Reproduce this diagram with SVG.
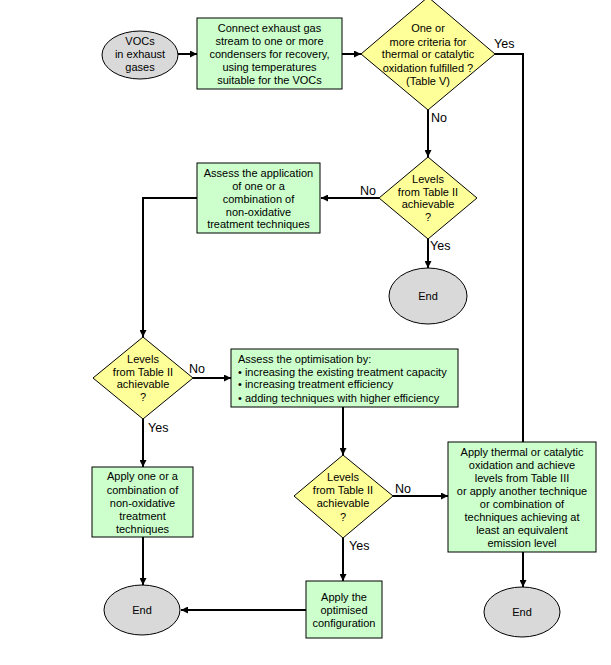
<svg xmlns="http://www.w3.org/2000/svg" width="611" height="665" viewBox="0 0 611 665">
<defs>
<marker id="arr" viewBox="0 0 10 10" refX="10" refY="5" markerWidth="7" markerHeight="7" markerUnits="userSpaceOnUse" orient="auto">
<path d="M0,0 L10,5 L0,10 z" fill="#000"/>
</marker>
<style>
.box{fill:#ccffcc;stroke:#000;stroke-width:1}
.dia{fill:#ffff99;stroke:#000;stroke-width:1}
.ell{fill:#d9d9d9;stroke:#000;stroke-width:1}
text{font-family:"Liberation Sans",Arial,sans-serif;font-size:11px;fill:#000}
.c{text-anchor:middle}
.lbl{font-size:12.5px}
.con{fill:none;stroke:#000;stroke-width:2}
</style>
</defs>
<rect width="611" height="665" fill="#fff"/>
<g id="connectors">
<path class="con" d="M178,54 L197,54" marker-end="url(#arr)"/>
<path class="con" d="M342,54 L361,54" marker-end="url(#arr)"/>
<path class="con" d="M495,54 L523,54 L523,442"/>
<path class="con" d="M428,110 L428,157" marker-end="url(#arr)"/>
<path class="con" d="M379,198 L321,198" marker-end="url(#arr)"/>
<path class="con" d="M428,239 L428,268" marker-end="url(#arr)"/>
<path class="con" d="M197,198 L143,198 L143,337" marker-end="url(#arr)"/>
<path class="con" d="M193,378 L231,378" marker-end="url(#arr)"/>
<path class="con" d="M143,419 L143,467" marker-end="url(#arr)"/>
<path class="con" d="M343,407 L343,455" marker-end="url(#arr)"/>
<path class="con" d="M393,496 L448,496" marker-end="url(#arr)"/>
<path class="con" d="M343,538 L343,581" marker-end="url(#arr)"/>
<path class="con" d="M523,552 L523,587" marker-end="url(#arr)"/>
<path class="con" d="M143,537 L143,585" marker-end="url(#arr)"/>
<path class="con" d="M306,610 L181,610" marker-end="url(#arr)"/>
<text class="lbl" x="494" y="48">Yes</text>
<text class="lbl" x="431" y="122">No</text>
<text class="lbl" x="360" y="195">No</text>
<text class="lbl" x="430" y="250">Yes</text>
<text class="lbl" x="189" y="373">No</text>
<text class="lbl" x="148" y="432">Yes</text>
<text class="lbl" x="395" y="493">No</text>
<text class="lbl" x="349" y="550">Yes</text>
</g>
<g id="start">
<ellipse class="ell" cx="140" cy="55" rx="38" ry="24"/>
<text class="c" x="140" y="45">VOCs</text>
<text class="c" x="140" y="58">in exhaust</text>
<text class="c" x="140" y="71">gases</text>
</g>
<g id="condense">
<rect class="box" x="197" y="18" width="145" height="71"/>
<text class="c" x="269.5" y="32">Connect exhaust gas</text>
<text class="c" x="269.5" y="45">stream to one or more</text>
<text class="c" x="269.5" y="58">condensers for recovery,</text>
<text class="c" x="269.5" y="71">using temperatures</text>
<text class="c" x="269.5" y="84">suitable for the VOCs</text>
</g>
<g id="criteria">
<polygon class="dia" points="428,-3 495,54 428,110 361,54"/>
<text class="c" x="428" y="32">One or</text>
<text class="c" x="428" y="46">more criteria for</text>
<text class="c" x="428" y="58">thermal or catalytic</text>
<text class="c" x="428" y="72">oxidation fulfilled ?</text>
<text class="c" x="428" y="85">(Table V)</text>
</g>
<g id="levels1">
<polygon class="dia" points="428,157 477,198 428,239 379,198"/>
<text class="c" x="428" y="183">Levels</text>
<text class="c" x="428" y="196">from Table II</text>
<text class="c" x="428" y="208">achievable</text>
<text class="c" x="428" y="221">?</text>
</g>
<g id="assess1">
<rect class="box" x="197" y="163" width="123" height="70"/>
<text class="c" x="258.5" y="177">Assess the application</text>
<text class="c" x="258.5" y="190">of one or a</text>
<text class="c" x="258.5" y="203">combination of</text>
<text class="c" x="258.5" y="216">non-oxidative</text>
<text class="c" x="258.5" y="228">treatment techniques</text>
</g>
<g id="end1">
<ellipse class="ell" cx="428" cy="296" rx="39" ry="28"/>
<text class="c" x="428" y="300">End</text>
</g>
<g id="levels2">
<polygon class="dia" points="143,337 193,378 143,419 93,378"/>
<text class="c" x="143" y="363">Levels</text>
<text class="c" x="143" y="376">from Table II</text>
<text class="c" x="143" y="388">achievable</text>
<text class="c" x="143" y="401">?</text>
</g>
<g id="assess2">
<rect class="box" x="231" y="349" width="227" height="58"/>
<text x="238" y="363">Assess the optimisation by:</text>
<text x="238" y="376">• increasing the existing treatment capacity</text>
<text x="238" y="388">• increasing treatment efficiency</text>
<text x="238" y="402">• adding techniques with higher efficiency</text>
</g>
<g id="apply1">
<rect class="box" x="92" y="467" width="101" height="70"/>
<text class="c" x="142.5" y="480">Apply one or a</text>
<text class="c" x="142.5" y="494">combination of</text>
<text class="c" x="142.5" y="507">non-oxidative</text>
<text class="c" x="142.5" y="520">treatment</text>
<text class="c" x="142.5" y="533">techniques</text>
</g>
<g id="end2">
<ellipse class="ell" cx="142" cy="610" rx="38" ry="25"/>
<text class="c" x="142" y="614">End</text>
</g>
<g id="levels3">
<polygon class="dia" points="343,455 393,496 343,538 294,496"/>
<text class="c" x="343" y="481">Levels</text>
<text class="c" x="343" y="494">from Table II</text>
<text class="c" x="343" y="507">achievable</text>
<text class="c" x="343" y="521">?</text>
</g>
<g id="apply2">
<rect class="box" x="306" y="581" width="76" height="57"/>
<text class="c" x="344" y="601">Apply the</text>
<text class="c" x="344" y="614">optimised</text>
<text class="c" x="344" y="627">configuration</text>
</g>
<g id="oxidation">
<rect class="box" x="448" y="442" width="148" height="110"/>
<text class="c" x="522" y="456">Apply thermal or catalytic</text>
<text class="c" x="522" y="469">oxidation and achieve</text>
<text class="c" x="522" y="482">levels from Table III</text>
<text class="c" x="522" y="495">or apply another technique</text>
<text class="c" x="522" y="508">or combination of</text>
<text class="c" x="522" y="521">techniques achieving at</text>
<text class="c" x="522" y="534">least an equivalent</text>
<text class="c" x="522" y="547">emission level</text>
</g>
<g id="end3">
<ellipse class="ell" cx="522" cy="612" rx="38" ry="25"/>
<text class="c" x="522" y="616">End</text>
</g>
</svg>
